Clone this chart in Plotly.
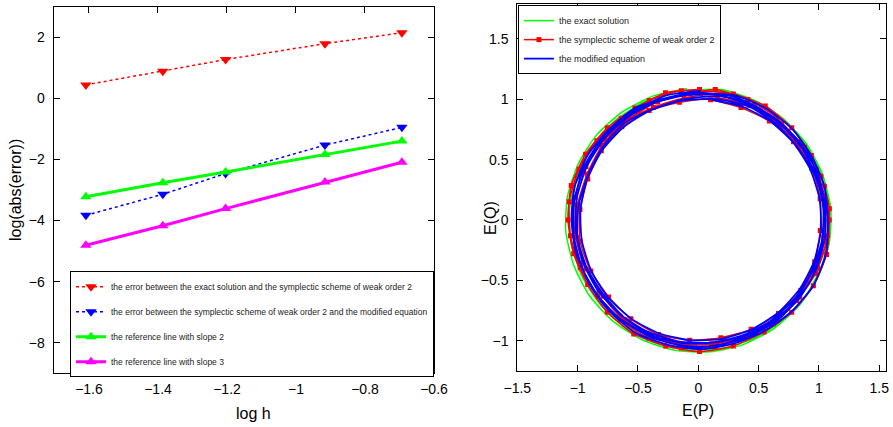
import plotly.graph_objects as go

# ---- left panel: error versus step size (log-log) ----
log_h = [-1.609, -1.386, -1.204, -0.916, -0.693]
err_exact_vs_scheme = [0.44, 0.89, 1.27, 1.79, 2.15]
err_scheme_vs_modified = [-3.83, -3.14, -2.46, -1.53, -0.95]
ref_slope2 = [-3.22, -2.76, -2.41, -1.84, -1.40]
ref_slope3 = [-4.81, -4.17, -3.61, -2.74, -2.09]

left_xticks = [-1.6, -1.4, -1.2, -1.0, -0.8, -0.6]
left_yticks = [2, 0, -2, -4, -6, -8]

# ---- right panel: phase portrait of E(P), E(Q) ----
exact_P = [-0.095, -0.373, -0.630, -0.842, -0.995, -1.085, -1.098, -1.032, -0.900, -0.705, -0.465, -0.190,
           0.095, 0.376, 0.630, 0.842, 0.995, 1.085, 1.098, 1.030, 0.897, 0.703, 0.463, 0.190,
           -0.178, -0.447, -0.684, -0.875, -1.005, -1.066, -1.054, -0.969, -0.817, -0.610, -0.359, -0.084,
           0.198, 0.467, 0.704, 0.895, 1.025, 1.086, 1.074, 0.989, 0.837, 0.630, 0.379, 0.104]
exact_Q = [1.090, 1.028, 0.895, 0.705, 0.465, 0.192, -0.095, -0.376, -0.630, -0.840, -0.992, -1.080,
           -1.092, -1.030, -0.897, -0.703, -0.463, -0.192, 0.095, 0.376, 0.630, 0.840, 0.992, 1.080,
           1.064, 0.979, 0.827, 0.620, 0.369, 0.094, -0.188, -0.457, -0.694, -0.885, -1.015, -1.076,
           -1.064, -0.979, -0.827, -0.620, -0.369, -0.094, 0.188, 0.457, 0.694, 0.885, 1.015, 1.076]

scheme_P = [0.010, -0.272, -0.525, -0.754, -0.934, -1.053, -1.080, -1.033, -0.917, -0.754, -0.535, -0.270,
            0.010, 0.290, 0.545, 0.774, 0.954, 1.063, 1.085, 1.045, 0.937, 0.774, 0.555, 0.290,
            -0.140, -0.406, -0.639, -0.841, -0.989, -1.070, -1.060, -0.979, -0.833, -0.646, -0.410, -0.141,
            0.140, 0.406, 0.639, 0.841, 0.989, 1.070, 1.060, 0.979, 0.833, 0.646, 0.410, 0.141,
            -0.071, -0.336, -0.571, -0.777, -0.931, -1.024, -1.026, -0.958, -0.824, -0.649, -0.424, -0.161,
            0.110, 0.376, 0.623, 0.817, 0.971, 1.064, 1.086, 1.016, 0.880, 0.689, 0.464, 0.204,
            -0.118, -0.372, -0.614, -0.797, -0.921, -1.000, -1.010, -0.930, -0.789, -0.607, -0.378, -0.116,
            0.155, 0.416, 0.654, 0.837, 0.962, 1.040, 1.050, 0.970, 0.829, 0.647, 0.418, 0.157,
            -0.157, -0.408, -0.634, -0.804, -0.916, -0.981, -0.980, -0.891, -0.743, -0.559, -0.330, -0.072,
            0.187, 0.438, 0.664, 0.850, 0.964, 1.011, 1.010, 0.939, 0.789, 0.589, 0.354, 0.102]
scheme_Q = [1.080, 1.053, 0.927, 0.764, 0.545, 0.285, 0.000, -0.280, -0.535, -0.764, -0.944, -1.043,
            -1.090, -1.043, -0.927, -0.764, -0.545, -0.285, 0.000, 0.280, 0.535, 0.764, 0.944, 1.043,
            1.070, 0.989, 0.843, 0.656, 0.420, 0.151, -0.130, -0.396, -0.629, -0.831, -0.979, -1.060,
            -1.050, -0.969, -0.823, -0.636, -0.400, -0.131, 0.150, 0.416, 0.649, 0.851, 0.999, 1.080,
            1.046, 0.978, 0.844, 0.669, 0.444, 0.184, -0.091, -0.356, -0.591, -0.797, -0.951, -1.024,
            -1.026, -0.978, -0.860, -0.669, -0.444, -0.184, 0.093, 0.363, 0.603, 0.797, 0.951, 1.044,
            1.011, 0.932, 0.815, 0.618, 0.381, 0.126, -0.147, -0.405, -0.632, -0.827, -0.972, -1.031,
            -1.021, -0.962, -0.835, -0.638, -0.401, -0.146, 0.126, 0.385, 0.612, 0.807, 0.951, 1.011,
            0.975, 0.906, 0.774, 0.574, 0.339, 0.087, -0.176, -0.423, -0.637, -0.819, -0.949, -0.996,
            -0.975, -0.906, -0.774, -0.585, -0.345, -0.087, 0.176, 0.431, 0.649, 0.819, 0.931, 0.996]

modified_P = [0.020, -0.257, -0.510, -0.736, -0.915, -1.023, -1.050, -1.014, -0.898, -0.736, -0.520, -0.257,
              0.020, 0.295, 0.550, 0.776, 0.955, 1.058, 1.075, 1.045, 0.938, 0.776, 0.555, 0.297,
              -0.128, -0.392, -0.629, -0.823, -0.960, -1.031, -1.031, -0.960, -0.823, -0.629, -0.392, -0.128,
              0.148, 0.412, 0.649, 0.843, 0.980, 1.051, 1.051, 0.980, 0.843, 0.649, 0.412, 0.148,
              0.000, -0.269, -0.530, -0.742, -0.901, -1.024, -1.050, -1.005, -0.909, -0.749, -0.520, -0.272,
              0.000, 0.272, 0.520, 0.742, 0.918, 1.014, 1.040, 1.014, 0.918, 0.735, 0.525, 0.275,
              -0.080, -0.342, -0.581, -0.779, -0.923, -1.005, -1.016, -0.958, -0.834, -0.652, -0.426, -0.169,
              0.100, 0.362, 0.601, 0.799, 0.943, 1.025, 1.036, 0.978, 0.854, 0.672, 0.446, 0.189,
              -0.114, -0.367, -0.607, -0.789, -0.913, -0.991, -1.001, -0.922, -0.781, -0.601, -0.374, -0.114,
              0.152, 0.411, 0.647, 0.829, 0.953, 1.031, 1.041, 0.962, 0.821, 0.641, 0.414, 0.154,
              -0.154, -0.403, -0.623, -0.799, -0.920, -0.976, -0.965, -0.886, -0.746, -0.554, -0.322, -0.067,
              0.194, 0.443, 0.663, 0.839, 0.960, 1.016, 1.005, 0.926, 0.786, 0.594, 0.362, 0.107]
modified_Q = [1.070, 1.034, 0.918, 0.756, 0.540, 0.280, 0.000, -0.277, -0.530, -0.756, -0.935, -1.034,
              -1.070, -1.024, -0.918, -0.756, -0.540, -0.280, 0.000, 0.277, 0.530, 0.756, 0.927, 1.034,
              1.041, 0.970, 0.833, 0.639, 0.402, 0.138, -0.138, -0.402, -0.639, -0.833, -0.970, -1.041,
              -1.041, -0.970, -0.833, -0.639, -0.402, -0.138, 0.138, 0.402, 0.639, 0.833, 0.970, 1.041,
              1.055, 1.010, 0.923, 0.747, 0.525, 0.280, 0.005, -0.264, -0.520, -0.744, -0.896, -1.009,
              -1.055, -1.009, -0.896, -0.737, -0.525, -0.267, 0.005, 0.277, 0.535, 0.740, 0.914, 1.029,
              1.036, 0.978, 0.854, 0.672, 0.446, 0.189, -0.080, -0.342, -0.581, -0.779, -0.923, -1.005,
              -1.016, -0.958, -0.834, -0.652, -0.426, -0.169, 0.100, 0.362, 0.601, 0.799, 0.943, 1.025,
              1.001, 0.923, 0.807, 0.611, 0.377, 0.124, -0.145, -0.401, -0.625, -0.819, -0.962, -1.021,
              -1.011, -0.952, -0.827, -0.631, -0.397, -0.144, 0.125, 0.381, 0.605, 0.799, 0.942, 1.001,
              0.985, 0.906, 0.766, 0.574, 0.342, 0.087, -0.174, -0.423, -0.643, -0.819, -0.940, -0.996,
              -0.985, -0.906, -0.766, -0.574, -0.342, -0.087, 0.174, 0.423, 0.643, 0.819, 0.940, 0.996]

right_ticks = [-1.5, -1.0, -0.5, 0.0, 0.5, 1.0, 1.5]
right_yticks = [-1.0, -0.5, 0.0, 0.5, 1.0, 1.5]

FONT = "Liberation Sans, Arial, Helvetica, sans-serif"

fig = go.Figure()

# left panel traces
fig.add_trace(go.Scatter(
    x=log_h, y=err_exact_vs_scheme, mode="lines+markers",
    name="the error between the exact solution and the symplectic scheme of weak order 2",
    line=dict(color="#ff0000", width=1.5, dash="dot"),
    marker=dict(symbol="triangle-down", size=10, color="#ff0000"),
    xaxis="x", yaxis="y", legend="legend", legendgroup="a"))
fig.add_trace(go.Scatter(
    x=log_h, y=err_scheme_vs_modified, mode="lines+markers",
    name="the error between the symplectic scheme of weak order 2 and the modified equation",
    line=dict(color="#0000ff", width=1.5, dash="dot"),
    marker=dict(symbol="triangle-down", size=10, color="#0000ff"),
    xaxis="x", yaxis="y", legend="legend", legendgroup="b"))
fig.add_trace(go.Scatter(
    x=log_h, y=ref_slope2, mode="lines+markers",
    name="the reference line with slope 2",
    line=dict(color="#00ff00", width=3),
    marker=dict(symbol="triangle-up", size=10, color="#00ff00"),
    xaxis="x", yaxis="y", legend="legend", legendgroup="c"))
fig.add_trace(go.Scatter(
    x=log_h, y=ref_slope3, mode="lines+markers",
    name="the reference line with slope 3",
    line=dict(color="#ff00ff", width=3),
    marker=dict(symbol="triangle-up", size=10, color="#ff00ff"),
    xaxis="x", yaxis="y", legend="legend", legendgroup="d"))

# right panel traces
fig.add_trace(go.Scatter(
    x=exact_P, y=exact_Q, mode="lines", name="the exact solution",
    line=dict(color="#00ff00", width=1.5, shape="spline", smoothing=0.6),
    xaxis="x2", yaxis="y2", legend="legend2", legendgroup="e"))
fig.add_trace(go.Scatter(
    x=scheme_P, y=scheme_Q, mode="lines+markers", name="the symplectic scheme of weak order 2",
    line=dict(color="#ff0000", width=1.5, shape="spline", smoothing=0.6),
    marker=dict(symbol="square", size=5, color="#ff0000"),
    xaxis="x2", yaxis="y2", legend="legend2", legendgroup="f"))
fig.add_trace(go.Scatter(
    x=modified_P, y=modified_Q, mode="lines", name="the modified equation",
    line=dict(color="#0000ff", width=1.8, shape="spline", smoothing=0.6),
    xaxis="x2", yaxis="y2", legend="legend2", legendgroup="g"))

axis_style = dict(
    showline=True, linecolor="black", linewidth=1, mirror="allticks",
    ticks="inside", ticklen=6, tickcolor="black", tickwidth=1,
    showgrid=False, zeroline=False, automargin=False,
    tickfont=dict(family=FONT, size=14, color="black"),
)

ann_font = dict(family=FONT, size=16, color="black")

fig.update_layout(
    width=893, height=427,
    margin=dict(l=0, r=0, t=0, b=0, autoexpand=False),
    paper_bgcolor="white", plot_bgcolor="white",
    font=dict(family=FONT, color="black"),
    xaxis=dict(domain=[0.0610, 0.4860], range=[-1.7, -0.6], tickvals=left_xticks,
               ticktext=["\u22121.6", "\u22121.4", "\u22121.2", "\u22121", "\u22120.8", "\u22120.6"],
               anchor="y", ticklabelstandoff=3, **axis_style),
    yaxis=dict(domain=[0.1258, 0.9843], range=[-9, 3], tickvals=left_yticks,
               anchor="x", ticklabelstandoff=6, **axis_style),
    xaxis2=dict(domain=[0.5793, 0.9918], range=[-1.5, 1.553], tickvals=right_ticks,
                ticktext=["\u22121.5", "\u22121", "\u22120.5", "0", "0.5", "1", "1.5"],
                anchor="y2", ticklabelstandoff=4, **axis_style),
    yaxis2=dict(domain=[0.1311, 0.9906], range=[-1.251, 1.789], tickvals=right_yticks,
                ticktext=["\u22121", "\u22120.5", "0", "0.5", "1", "1.5"],
                anchor="x2", ticklabelstandoff=5, **axis_style),
    legend=dict(x=0.0784, y=0.365, xanchor="left", yanchor="top",
                bgcolor="white", bordercolor="black", borderwidth=1,
                font=dict(family=FONT, size=8.5, color="#222222"),
                tracegroupgap=6, itemwidth=30),
    legend2=dict(x=0.5800, y=0.988, xanchor="left", yanchor="top",
                 bgcolor="white", bordercolor="black", borderwidth=1,
                 font=dict(family=FONT, size=9, color="#222222"),
                 tracegroupgap=0, itemwidth=30),
    showlegend=True,
    annotations=[
        dict(text="log h", x=253 / 893, y=1 - 413 / 427, xref="paper", yref="paper",
             xanchor="center", yanchor="middle", showarrow=False, font=ann_font),
        dict(text="log(abs(error))", x=15 / 893, y=1 - 190 / 427, xref="paper", yref="paper",
             xanchor="center", yanchor="middle", textangle=-90, showarrow=False, font=ann_font),
        dict(text="E(P)", x=698 / 893, y=1 - 410 / 427, xref="paper", yref="paper",
             xanchor="center", yanchor="middle", showarrow=False, font=ann_font),
        dict(text="E(Q)", x=490 / 893, y=1 - 218 / 427, xref="paper", yref="paper",
             xanchor="center", yanchor="middle", textangle=-90, showarrow=False, font=ann_font),
    ],
)

fig.write_html("out.html")
